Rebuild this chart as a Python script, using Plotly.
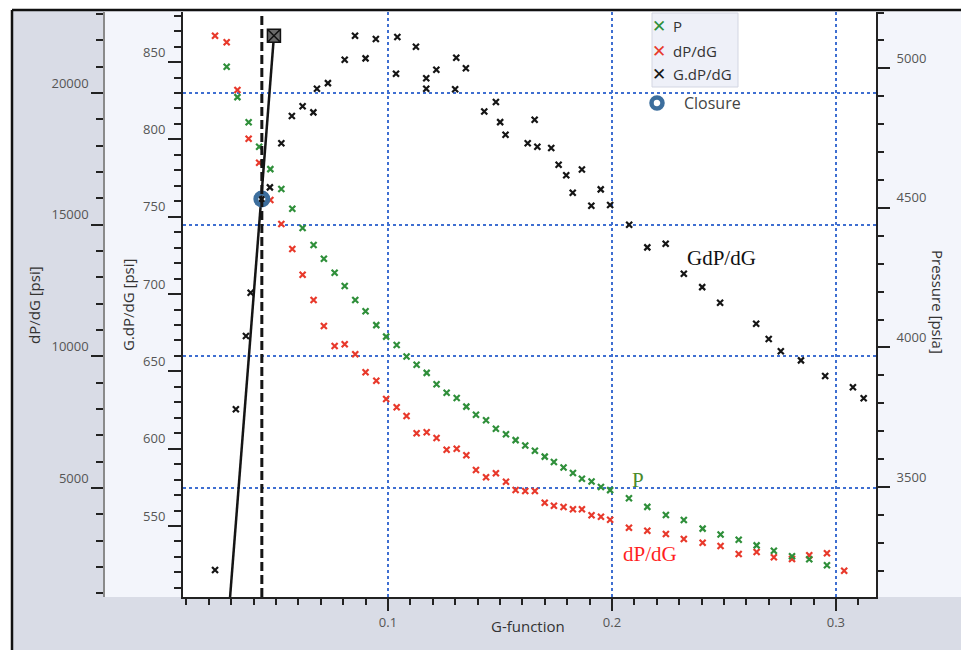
import plotly.graph_objects as go

W, H = 961, 650

# ---------------- data ----------------
g_func = [0.0228, 0.0280, 0.0328, 0.0378, 0.0425, 0.0475, 0.0524, 0.0573, 0.0619, 0.0668,
          0.0714, 0.0762, 0.0807, 0.0854, 0.0900, 0.0948, 0.0992, 0.1039, 0.1083, 0.1128,
          0.1173, 0.1217, 0.1262, 0.1307, 0.1350, 0.1393, 0.1438, 0.1482, 0.1527, 0.1570,
          0.1613, 0.1656, 0.1700, 0.1741, 0.1784, 0.1826, 0.1866, 0.1909, 0.1951, 0.1992,
          0.2076, 0.2158, 0.2241, 0.2321, 0.2405, 0.2485, 0.2566, 0.2646, 0.2723, 0.2804,
          0.2881, 0.2960, 0.3037]

pressure = [None, 5006, 4897, 4807, 4719, 4639, 4568, 4497, 4428, 4367,
            4318, 4268, 4220, 4170, 4130, 4080, 4039, 4009, 3968, 3938,
            3909, 3868, 3838, 3819, 3788, 3759, 3739, 3709, 3689, 3668,
            3649, 3630, 3609, 3590, 3570, 3550, 3530, 3520, 3500, 3489,
            3460, 3429, 3400, 3382, 3351, 3330, 3311, 3291, 3272, 3252,
            3241, 3220, None]

dpdg = [22178, 21928, 20116, 18266, 17355, 15938, 15027, 14077, 13101, 12140,
        11153, 10393, 10458, 10078, 9394, 9075, 8380, 8065, 7735, 7078,
        7115, 6899, 6455, 6493, 6242, 5684, 5406, 5558, 5239, 4924,
        4886, 4886, 4442, 4328, 4278, 4191, 4191, 3963, 3910, 3796,
        3492, 3378, 3253, 3063, 2922, 2797, 2493, 2569, 2368, 2303,
        2444, 2520, 1859]

g_gdpdg = [0.0228, 0.0321, 0.0366, 0.0387, 0.0436, 0.0473, 0.0524, 0.0571, 0.0619, 0.0667,
           0.0683, 0.0732, 0.0807, 0.0853, 0.0900, 0.0946, 0.1036, 0.1042, 0.1125, 0.1171,
           0.1171, 0.1216, 0.1300, 0.1305, 0.1348, 0.1430, 0.1482, 0.1501, 0.1525, 0.1624,
           0.1655, 0.1667, 0.1729, 0.1762, 0.1796, 0.1825, 0.1866, 0.1908, 0.1950, 0.1992,
           0.2077, 0.2158, 0.2240, 0.2321, 0.2403, 0.2483, 0.2644, 0.2700, 0.2754, 0.2844,
           0.2952, 0.3076, 0.3124]
gdpdg = [521.5, 625.5, 672.9, 700.9, 761.4, 769.0, 797.5, 815.1, 821.4, 817.5,
         832.8, 836.4, 851.5, 867.0, 852.4, 864.9, 842.5, 866.2, 859.9, 839.5,
         832.8, 845.0, 832.4, 852.8, 846.0, 818.1, 824.2, 811.2, 803.0, 797.5,
         812.7, 795.3, 794.4, 783.6, 776.8, 765.5, 780.6, 757.1, 767.7, 757.6,
         744.8, 730.2, 732.5, 713.1, 704.5, 694.4, 680.8, 670.9, 663.0, 657.1,
         647.0, 639.7, 632.6]

closure_g = 0.0437
closure_gdpdg = 761.4
tangent_g = [0.0293, 0.0491]
tangent_gdpdg = [500.0, 867.0]

legend_labels = ["P", "dP/dG", "G.dP/dG"]
closure_label = "Closure"

# ---------------- styles ----------------
GREEN = "#2f8f3a"
RED = "#e8392b"
BLACK = "#151515"
BLUE_RING = "#3c6e9d"
GRID = "#3f6fd1"
TICKC = "#222222"
LABELC = "#555555"
TITLEC = "#333333"
FONT = "Open Sans"

def px(x):
    return x / W

def py(y):
    return 1 - y / H

PLOT_L, PLOT_R, PLOT_T, PLOT_B = 183, 876, 12, 597

fig = go.Figure()

mk = lambda c: dict(symbol="x-thin", size=6, color=c, line=dict(width=2.2, color=c))

fig.add_trace(go.Scatter(x=g_func, y=dpdg, yaxis="y", mode="markers",
                         marker=mk(RED), name="dP/dG", showlegend=False))
fig.add_trace(go.Scatter(x=g_func, y=pressure, yaxis="y2", mode="markers",
                         marker=mk(GREEN), name="P", showlegend=False))
fig.add_trace(go.Scatter(x=g_gdpdg, y=gdpdg, yaxis="y3", mode="markers",
                         marker=mk(BLACK), name="G.dP/dG", showlegend=False))
fig.add_trace(go.Scatter(x=tangent_g, y=tangent_gdpdg, yaxis="y3", mode="lines",
                         line=dict(color=BLACK, width=2.5), showlegend=False))
fig.add_trace(go.Scatter(x=tangent_g[1:], y=tangent_gdpdg[1:], yaxis="y3", mode="markers",
                         marker=dict(symbol="square-x", size=13, color="#6a6a6a",
                                     line=dict(color="#111", width=1.5)),
                         showlegend=False))
fig.add_trace(go.Scatter(x=[closure_g], y=[closure_gdpdg], yaxis="y3", mode="markers",
                         marker=dict(symbol="circle-open", size=12, color=BLUE_RING,
                                     line=dict(color=BLUE_RING, width=5)),
                         name=closure_label, showlegend=False))

tickfont = dict(family=FONT, size=13, color=LABELC)
common = dict(ticks="outside", tickcolor=TICKC, tickwidth=2, tickfont=tickfont,
              zeroline=False, showline=True)

dom_y = [py(PLOT_B), py(PLOT_T)]

fig.update_layout(
    width=W, height=H, margin=dict(l=0, r=0, t=0, b=0),
    paper_bgcolor="white", plot_bgcolor="rgba(0,0,0,0)",
    showlegend=False,
    xaxis=dict(domain=[px(PLOT_L), px(PLOT_R)], range=[0.0085, 0.3179], anchor="y3",
               dtick=0.1, tick0=0, ticklen=12, linecolor=TICKC, linewidth=2,
               showgrid=True, gridcolor=GRID, griddash="dot", gridwidth=1.5,
               minor=dict(dtick=0.01, tick0=0, ticklen=6, tickwidth=2, tickcolor=TICKC,
                          ticks="outside", showgrid=False),
               **common),
    yaxis=dict(domain=dom_y, range=[860, 23078], anchor="free", position=px(104),
               side="left", dtick=5000, tick0=0, ticklen=12, ticklabelshift=-10,
               tickformat="d",
               linecolor="#8a8a8a", linewidth=1.5,
               showgrid=True, gridcolor=GRID, griddash="dot", gridwidth=1.5,
               minor=dict(dtick=1000, tick0=0, ticklen=7, tickwidth=2, tickcolor=TICKC,
                          ticks="outside", showgrid=False),
               **common),
    yaxis2=dict(domain=dom_y, range=[3106, 5202], overlaying="y", anchor="x", side="right",
                dtick=500, tick0=0, ticklen=12, ticklabelshift=-10, ticklabelstandoff=4,
                tickformat="d",
                linecolor=TICKC, linewidth=2, showgrid=False,
                minor=dict(dtick=100, tick0=0, ticklen=6, tickwidth=2, tickcolor=TICKC,
                           ticks="outside", showgrid=False),
                **common),
    yaxis3=dict(domain=dom_y, range=[504.1, 882.4], overlaying="y", anchor="x", side="left",
                dtick=50, tick0=0, ticklen=13, ticklabelshift=-10,
                linecolor=TICKC, linewidth=2, showgrid=False,
                minor=dict(dtick=10, tick0=0, ticklen=7, tickwidth=2, tickcolor=TICKC,
                           ticks="outside", showgrid=False),
                **common),
)

shapes = [
    # outer grey frame area
    dict(type="rect", xref="paper", yref="paper", x0=px(12), x1=1, y0=0, y1=py(10),
         fillcolor="#d9dce6", line=dict(width=0), layer="below"),
    # light axis panel
    dict(type="rect", xref="paper", yref="paper", x0=px(104), x1=1, y0=py(PLOT_B), y1=py(10),
         fillcolor="#f3f5fb", line=dict(width=0), layer="below"),
    # white plot area
    dict(type="rect", xref="paper", yref="paper", x0=px(PLOT_L), x1=px(PLOT_R),
         y0=py(PLOT_B), y1=py(PLOT_T), fillcolor="white", line=dict(width=0), layer="below"),
    # frame lines
    dict(type="line", xref="paper", yref="paper", x0=px(12), x1=1, y0=py(10), y1=py(10),
         line=dict(color="#111", width=2.5)),
    dict(type="line", xref="paper", yref="paper", x0=px(12), x1=px(12), y0=0, y1=py(10),
         line=dict(color="#111", width=2.5)),
    # closure dashed line
    dict(type="line", xref="x", yref="y domain", x0=closure_g, x1=closure_g, y0=0, y1=1,
         line=dict(color=BLACK, width=3, dash="9px,4px")),
    # legend box
    dict(type="rect", xref="paper", yref="paper", x0=px(652), x1=px(738), y0=py(87), y1=py(13),
         fillcolor="#eef0f8", line=dict(color="#d3d6e2", width=1)),
    # legend closure ring
    dict(type="circle", xref="paper", yref="paper", x0=px(651.5), x1=px(662.5), y0=py(108.5), y1=py(97.5),
         line=dict(color=BLUE_RING, width=4.5), fillcolor="white"),
]

annotations = []
leg_colors = [GREEN, RED, BLACK]
leg_y = [26, 51, 74]
for lab, c, yy in zip(legend_labels, leg_colors, leg_y):
    annotations.append(dict(xref="paper", yref="paper", x=px(659), y=py(yy), text="✕",
                            showarrow=False, xanchor="center", yanchor="middle",
                            font=dict(family="DejaVu Sans", size=17, color=c)))
    annotations.append(dict(xref="paper", yref="paper", x=px(671), y=py(yy), text=lab,
                            showarrow=False, xanchor="left", yanchor="middle",
                            font=dict(family=FONT, size=15, color="#333")))
annotations.append(dict(xref="paper", yref="paper", x=px(682), y=py(103), text=closure_label,
                        showarrow=False, xanchor="left", yanchor="middle",
                        font=dict(family=FONT, size=16, color="#444")))

# axis titles
annotations += [
    dict(xref="paper", yref="paper", x=px(22), y=py(305), text="dP/dG [psi]", textangle=-90,
         showarrow=False, font=dict(family=FONT, size=15, color=TITLEC)),
    dict(xref="paper", yref="paper", x=px(116), y=py(305), text="G.dP/dG [psi]", textangle=-90,
         showarrow=False, font=dict(family=FONT, size=15, color=TITLEC)),
    dict(xref="paper", yref="paper", x=px(950), y=py(302), text="Pressure [psia]", textangle=90,
         showarrow=False, font=dict(family=FONT, size=15, color=TITLEC)),
    dict(xref="paper", yref="paper", x=px(528), y=py(638), text="G-function",
         showarrow=False, font=dict(family=FONT, size=15, color=TITLEC)),
]

# in-plot series labels
annotations += [
    dict(xref="x", yref="y3", x=0.2487, y=723, text="GdP/dG", showarrow=False,
         font=dict(family="Liberation Serif", size=21, color="#111")),
    dict(xref="x", yref="y3", x=0.2116, y=580, text="P", showarrow=False,
         font=dict(family="Liberation Serif", size=21, color="#4a8a2a")),
    dict(xref="x", yref="y3", x=0.2170, y=532, text="dP/dG", showarrow=False,
         font=dict(family="Liberation Serif", size=21, color="#ff1f1f")),
]

fig.update_layout(shapes=shapes, annotations=annotations)

fig.write_html("out.html")
